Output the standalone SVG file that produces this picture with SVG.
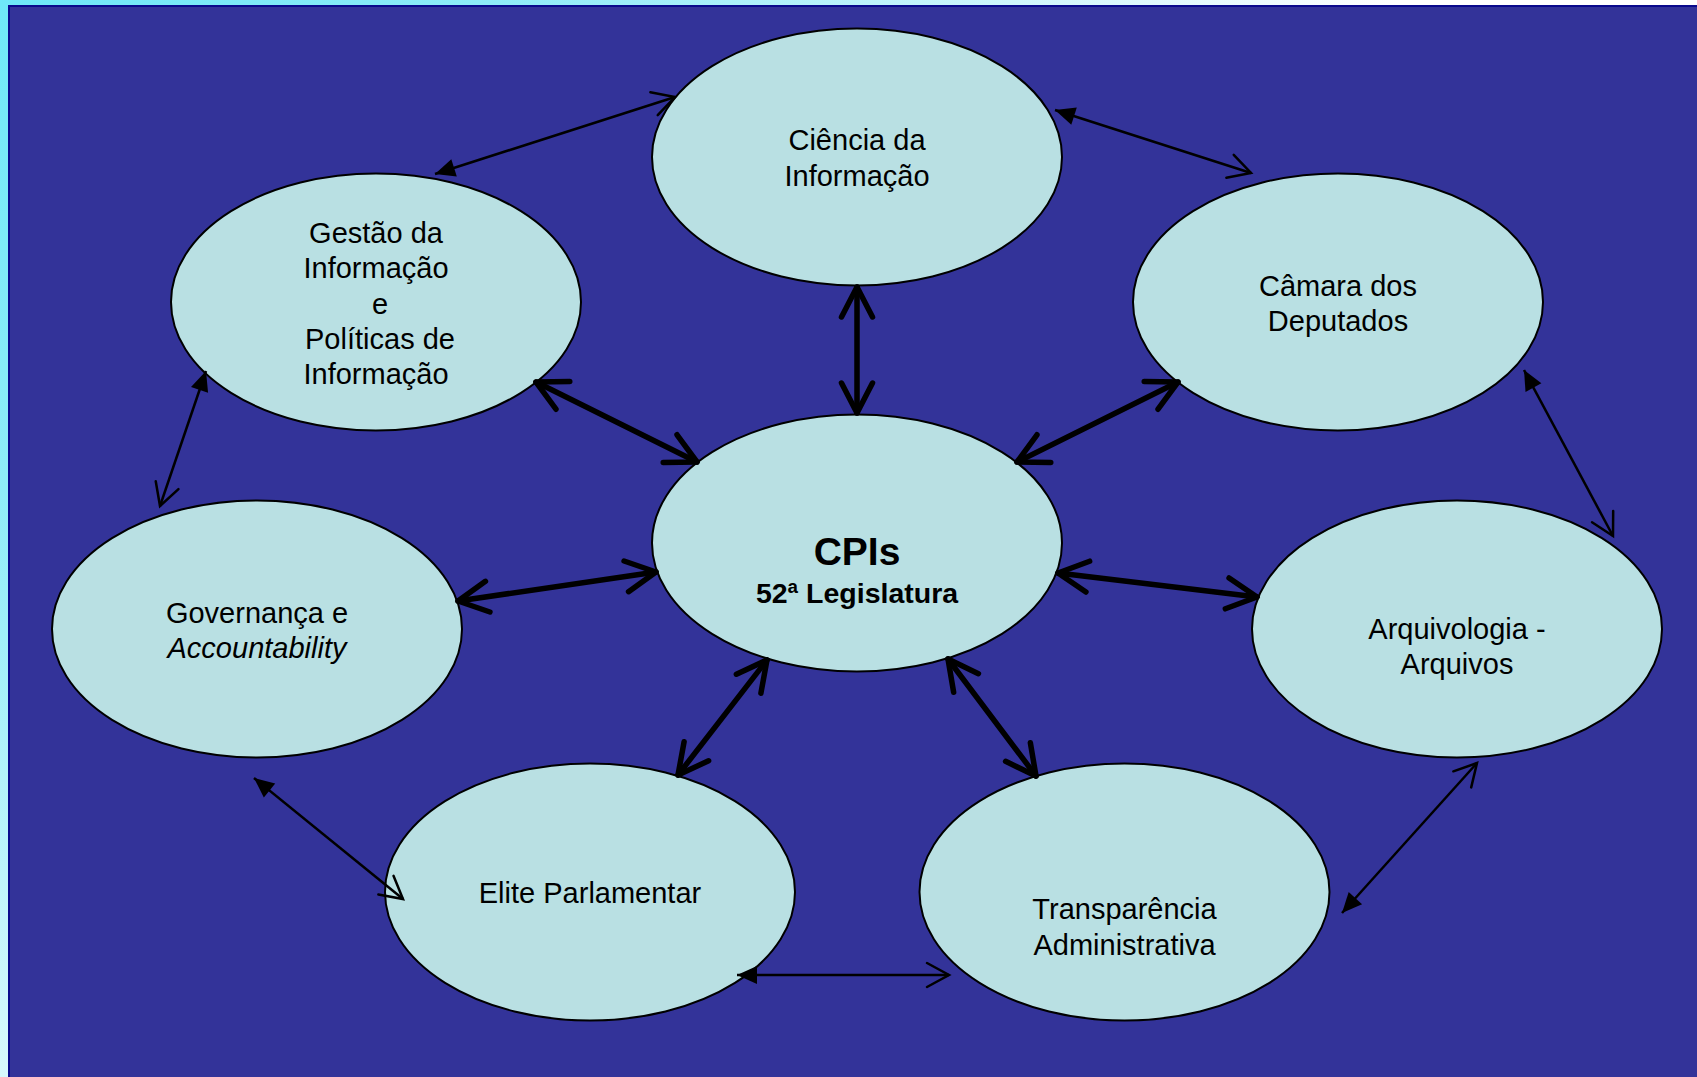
<svg xmlns="http://www.w3.org/2000/svg" width="1697" height="1077" viewBox="0 0 1697 1077">
<style>
.node ellipse{fill:#b9e0e3;stroke:#000;stroke-width:2}
.lbl{font-family:"Liberation Sans",Arial,sans-serif;font-size:29px;fill:#000;text-anchor:middle}
.thick{stroke:#000;stroke-width:5.5;fill:none;stroke-linecap:round;marker-start:url(#vThick);marker-end:url(#vThick)}
.thin{stroke:#000;stroke-width:2.5;fill:none;marker-start:url(#triThin);marker-end:url(#vThin)}
</style>
<defs>
<radialGradient id="bgGrad" gradientUnits="userSpaceOnUse" cx="0" cy="0" r="1400">
<stop offset="0" stop-color="#6ee8f8"/>
<stop offset="0.35" stop-color="#8eecf8"/>
<stop offset="1" stop-color="#ffffff"/>
</radialGradient>
<marker id="vThick" markerUnits="userSpaceOnUse" viewBox="-40 -20 45 40" refX="0" refY="0" markerWidth="45" markerHeight="40" orient="auto-start-reverse" overflow="visible">
<path d="M-30,-15.5 L0,0 L-30,15.5" fill="none" stroke="#000" stroke-width="5.5" stroke-linecap="round" stroke-linejoin="round"/>
</marker>
<marker id="vThin" markerUnits="userSpaceOnUse" viewBox="-30 -15 35 30" refX="0" refY="0" markerWidth="35" markerHeight="30" orient="auto-start-reverse" overflow="visible">
<path d="M-22,-12 L0,0 L-22,12" fill="none" stroke="#000" stroke-width="2.5" stroke-linecap="round" stroke-linejoin="miter"/>
</marker>
<marker id="triThin" markerUnits="userSpaceOnUse" viewBox="-25 -12 30 24" refX="0" refY="0" markerWidth="30" markerHeight="24" orient="auto-start-reverse" overflow="visible">
<path d="M0,0 L-20,-9 L-20,9 Z" fill="#000"/>
</marker>
</defs>
<rect x="0" y="0" width="1697" height="1077" fill="url(#bgGrad)"/>
<rect x="9" y="6" width="1700" height="1080" fill="#333399" stroke="#0a0a8c" stroke-width="2"/>

<g id="node-ciencia" class="node">
<ellipse cx="857" cy="157" rx="205" ry="128.5"/>
<text class="lbl" x="857" y="150">Ciência da</text>
<text class="lbl" x="857" y="186">Informação</text>
</g>
<g id="node-gestao" class="node">
<ellipse cx="376" cy="302" rx="205" ry="128.5"/>
<text class="lbl" x="376" y="243">Gestão da</text>
<text class="lbl" x="376" y="278">Informação</text>
<text class="lbl" x="380" y="314">e</text>
<text class="lbl" x="380" y="349">Políticas de</text>
<text class="lbl" x="376" y="384">Informação</text>
</g>
<g id="node-camara" class="node">
<ellipse cx="1338" cy="302" rx="205" ry="128.5"/>
<text class="lbl" x="1338" y="296">Câmara dos</text>
<text class="lbl" x="1338" y="331">Deputados</text>
</g>
<g id="node-cpis" class="node">
<ellipse cx="857" cy="543" rx="205" ry="128.5"/>
<text class="lbl" x="857" y="565" style="font-weight:bold;font-size:39px">CPIs</text>
<text class="lbl" x="857" y="603" style="font-weight:bold;font-size:28.5px">52ª Legislatura</text>
</g>
<g id="node-governanca" class="node">
<ellipse cx="257" cy="629" rx="205" ry="128.5"/>
<text class="lbl" x="257" y="623">Governança e</text>
<text class="lbl" x="257" y="658" font-style="italic">Accountability</text>
</g>
<g id="node-arquivologia" class="node">
<ellipse cx="1457" cy="629" rx="205" ry="128.5"/>
<text class="lbl" x="1457" y="639">Arquivologia -</text>
<text class="lbl" x="1457" y="674">Arquivos</text>
</g>
<g id="node-elite" class="node">
<ellipse cx="590" cy="892" rx="205" ry="128.5"/>
<text class="lbl" x="590" y="903">Elite Parlamentar</text>
</g>
<g id="node-transparencia" class="node">
<ellipse cx="1124.5" cy="892" rx="205" ry="128.5"/>
<text class="lbl" x="1124.5" y="919">Transparência</text>
<text class="lbl" x="1124.5" y="955">Administrativa</text>
</g>

<g id="connectors">
<line class="thick" x1="857" y1="287" x2="857" y2="413"/>
<line class="thick" x1="536" y1="382" x2="697" y2="462"/>
<line class="thick" x1="1178" y1="382" x2="1017" y2="462"/>
<line class="thick" x1="458" y1="601" x2="656" y2="572"/>
<line class="thick" x1="1058" y1="573" x2="1257" y2="597"/>
<line class="thick" x1="767" y1="660" x2="678" y2="775"/>
<line class="thick" x1="948" y1="659" x2="1036" y2="776"/>
<line class="thin" x1="435" y1="174" x2="675" y2="97"/>
<line class="thin" x1="1055" y1="110" x2="1251" y2="173"/>
<line class="thin" x1="1524" y1="370" x2="1613" y2="536"/>
<line class="thin" x1="1342" y1="913" x2="1477" y2="763"/>
<line class="thin" x1="737" y1="975" x2="949" y2="975"/>
<line class="thin" x1="254" y1="778" x2="403" y2="899"/>
<line class="thin" x1="206" y1="371" x2="160" y2="506"/>
</g>
</svg>
